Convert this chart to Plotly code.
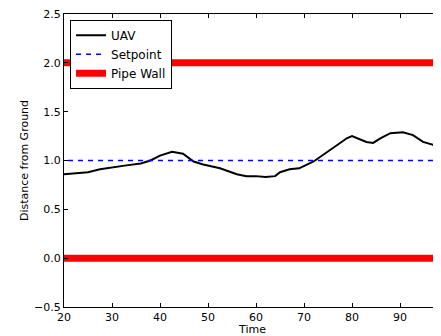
import plotly.graph_objects as go

# UAV trace
time = [20, 22, 25, 27.5, 30, 33, 36, 38, 40, 42.5, 44.8, 47, 49, 52.5, 56, 58, 60, 62, 64, 65, 67, 69, 72, 75.4, 79, 80, 81.5, 83, 84.4, 86, 88, 90.6, 92.7, 94.8, 96.9, 98.5, 100]
uav = [0.86, 0.87, 0.88, 0.91, 0.93, 0.95, 0.97, 1.00, 1.05, 1.09, 1.07, 0.99, 0.96, 0.92, 0.86, 0.84, 0.84, 0.83, 0.84, 0.88, 0.91, 0.92, 0.99, 1.11, 1.23, 1.25, 1.22, 1.19, 1.18, 1.23, 1.28, 1.29, 1.26, 1.19, 1.16, 1.11, 1.08]

x_span = [0, 120]
setpoint = [1.0, 1.0]
wall_top = [2.0, 2.0]
wall_bottom = [0.0, 0.0]

x_ticks = [20, 30, 40, 50, 60, 70, 80, 90]
y_ticks = [-0.5, 0.0, 0.5, 1.0, 1.5, 2.0, 2.5]
y_tick_text = ["\u22120.5", "0.0", "0.5", "1.0", "1.5", "2.0", "2.5"]

font = "DejaVu Sans"

fig = go.Figure()
fig.add_trace(go.Scatter(x=time, y=uav, mode="lines", name="UAV",
                         line=dict(color="black", width=2)))
fig.add_trace(go.Scatter(x=x_span, y=setpoint, mode="lines", name="Setpoint",
                         line=dict(color="blue", width=1.5, dash="5px,5px")))
fig.add_trace(go.Scatter(x=x_span, y=wall_top, mode="lines", name="Pipe Wall",
                         line=dict(color="red", width=7)))
fig.add_trace(go.Scatter(x=x_span, y=wall_bottom, mode="lines", name="Pipe Wall",
                         showlegend=False, line=dict(color="red", width=7)))

fig.update_layout(
    width=433, height=328,
    margin=dict(l=56, r=0, t=6, b=29),
    paper_bgcolor="white", plot_bgcolor="white",
    font=dict(family=font, size=11, color="black"),
    showlegend=True,
    legend=dict(x=0.016, y=0.98, xanchor="left", yanchor="top",
                bordercolor="black", borderwidth=1, bgcolor="white",
                font=dict(size=12), itemwidth=30, tracegroupgap=0),
    xaxis=dict(range=[20, 98.54], tickvals=x_ticks, showgrid=False, zeroline=False,
               showline=True, linecolor="black", linewidth=1, mirror="ticks",
               ticks="inside", ticklen=4, tickcolor="black", ticklabeloverflow="allow",
               title=dict(text="Time", standoff=2, font=dict(size=11))),
    yaxis=dict(range=[-0.5, 2.5], tickvals=y_ticks, ticktext=y_tick_text,
               showgrid=False, zeroline=False,
               showline=True, linecolor="black", linewidth=1,
               ticks="inside", ticklen=4, tickcolor="black", ticklabeloverflow="allow",
               title=dict(text="Distance from Ground", standoff=3, font=dict(size=11))),
)

# partially visible "100" tick label at the cropped right edge
fig.add_annotation(x=(100 - 20) / (98.54 - 20), y=0, xref="paper", yref="paper",
                   text="100", showarrow=False, xanchor="center",
                   yanchor="top", yshift=-1, font=dict(size=11))

fig.write_html("out.html")
